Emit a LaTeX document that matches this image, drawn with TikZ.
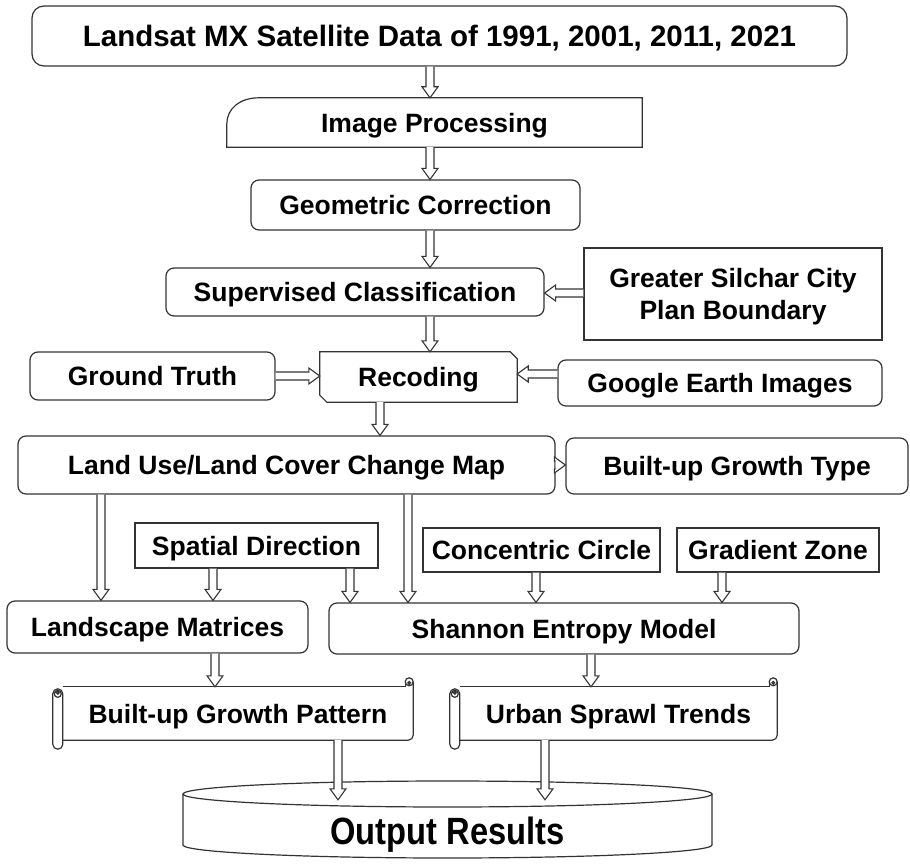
\documentclass[tikz,border=0pt]{standalone}
\usepackage{fontspec}
\setmainfont{Liberation Sans}
\usepackage{graphicx}
\usetikzlibrary{calc}
\newcommand\varr[3]{\draw[arrl] let \p1=(#1), \p2=(#2) in
  (#3pt-4pt,\y1) -- (#3pt-4pt,\y2+11pt) -- (#3pt-8pt,\y2+11pt) -- (#3pt,\y2) --
  (#3pt+8pt,\y2+11pt) -- (#3pt+4pt,\y2+11pt) -- (#3pt+4pt,\y1);}
\newcommand\rarr[3]{\draw[arrl] let \p1=(#1), \p2=(#2) in
  (\x1,-#3pt+4pt) -- (\x2-11pt,-#3pt+4pt) -- (\x2-11pt,-#3pt+8pt) -- (\x2,-#3pt) --
  (\x2-11pt,-#3pt-8pt) -- (\x2-11pt,-#3pt-4pt) -- (\x1,-#3pt-4pt);}
\newcommand\larr[3]{\draw[arrl] let \p1=(#1), \p2=(#2) in
  (\x1,-#3pt+4pt) -- (\x2+11pt,-#3pt+4pt) -- (\x2+11pt,-#3pt+8pt) -- (\x2,-#3pt) --
  (\x2+11pt,-#3pt-8pt) -- (\x2+11pt,-#3pt-4pt) -- (\x1,-#3pt-4pt);}
\newcommand\scrollshape[1]{%
  \draw[lw] let \p1=(#1.north west), \p2=(#1.south east) in
    (\x1,\y1) -- (\x2-8pt,\y1) -- (\x2-8pt,\y1+5pt);
  \draw[lw,rounded corners=5pt] let \p1=(#1.north west), \p2=(#1.south east) in
    (\x2,\y1+5pt) -- (\x2,\y2) -- (\x1,\y2);
  \draw[lw] let \p1=(#1.north west), \p2=(#1.south east) in
    (\x2-4pt,\y1+5pt) circle[radius=4pt] (\x2-4pt,\y1+4pt) circle[radius=1.3pt];
  \draw[lw,rounded corners=5pt] let \p1=(#1.north west), \p2=(#1.south east) in
    (\x1-10pt,\y1-2pt) rectangle (\x1,\y2-9pt);
  \draw[lw] let \p1=(#1.north west), \p2=(#1.south east) in
    (\x1-5pt,\y1-7pt) circle[radius=3.5pt] (\x1-5pt,\y1-6pt) circle[radius=1.3pt];}
\begin{document}
\begin{tikzpicture}[x=1pt,y=-1pt,
  lw/.style={draw=black!80,line width=1.2pt},
  txt/.style={inner sep=0pt,align=center,text depth=0pt,font=\fontsize{26.5}{32}\selectfont\bfseries},
  sbox/.style={txt,lw,fill=white},
  rbox/.style={sbox,rounded corners=8pt},
  arrl/.style={draw=black!80,line width=1.1pt,fill=white,line join=miter},
]
\useasboundingbox (0,0) rectangle (910,864);
\fill[white] (0,0) rectangle (910,864);

% nodes
\node[rbox,rounded corners=12pt,minimum width=815pt,minimum height=60pt,
      font=\fontsize{29.5}{34}\selectfont\bfseries] (top) at (439.5,36)
      {Landsat MX Satellite Data of 1991, 2001, 2011, 2021};
\node[txt,minimum width=415pt,minimum height=49pt] (imgp) at (434.5,122.5) {Image Processing};
\draw[lw] (imgp.south west) -- ($(imgp.north west)+(0,26)$)
   .. controls ($(imgp.north west)+(0,11)$) and ($(imgp.north west)+(13,0)$) .. ($(imgp.north west)+(32,0)$)
   -- (imgp.north east) -- (imgp.south east) -- cycle;
\node[rbox,minimum width=329pt,minimum height=50pt] (geo) at (415.5,205) {Geometric Correction};
\node[rbox,minimum width=378pt,minimum height=48pt] (sup) at (355,292) {Supervised Classification};
\node[sbox,minimum width=298pt,minimum height=92pt] (gsc) at (733,294) {Greater Silchar City\\Plan Boundary};
\node[txt,minimum width=197pt,minimum height=50pt] (rec) at (418.5,377) {Recoding};
\draw[lw] (rec.north west) -- ($(rec.north east)+(-7,0)$) -- ($(rec.north east)+(0,7)$)
   -- (rec.south east) -- ($(rec.south west)+(7,0)$) -- ($(rec.south west)+(0,-7)$) -- cycle;
\node[rbox,minimum width=245pt,minimum height=48pt] (gt) at (152.5,376) {Ground Truth};
\node[rbox,minimum width=324pt,minimum height=46pt] (gei) at (720,383) {Google Earth Images};
\node[rbox,minimum width=537pt,minimum height=58pt] (lulc) at (286.5,465) {Land Use/Land Cover Change Map};
\node[rbox,minimum width=342pt,minimum height=56pt] (bgt) at (737,466) {Built-up Growth Type};
\node[sbox,minimum width=243pt,minimum height=45pt] (spd) at (256.5,545.5) {Spatial Direction};
\node[sbox,minimum width=237pt,minimum height=44pt] (cc) at (541.5,550) {Concentric Circle};
\node[sbox,minimum width=202pt,minimum height=44pt] (gz) at (778,550) {Gradient Zone};
\node[rbox,minimum width=301pt,minimum height=52pt] (lm) at (157.5,627) {Landscape Matrices};
\node[rbox,minimum width=470pt,minimum height=51pt] (sem) at (564,628.5) {Shannon Entropy Model};
\node[txt,minimum width=350pt,minimum height=53pt] (bgp) at (238,713.5) {Built-up Growth Pattern};
\scrollshape{bgp}
\node[txt,minimum width=317pt,minimum height=53pt] (ust) at (618.5,713.5) {Urban Sprawl Trends};
\scrollshape{ust}

% cylinder
\draw[lw,fill=white] (183,794) -- (183,845)
   arc[start angle=180,end angle=0,x radius=264.5,y radius=13] -- (712,794);
\draw[lw,fill=white] (447.5,794) ellipse[x radius=264.5,y radius=13];
\node[txt,minimum width=529pt,minimum height=62pt] (out) at (447.5,831)
   {\scalebox{0.86}[1]{\fontsize{38}{44}\selectfont\bfseries Output Results}};

% arrows
\varr{top.south}{imgp.north}{430}
\varr{imgp.south}{geo.north}{430}
\varr{geo.south}{sup.north}{430}
\varr{sup.south}{rec.north}{430}
\larr{gsc.west}{sup.east}{293}
\rarr{gt.east}{rec.west}{376}
\larr{gei.west}{rec.east}{374}
\varr{rec.south}{lulc.north}{380}
\rarr{lulc.east}{bgt.west}{465}
\varr{lulc.south}{lm.north}{101}
\varr{lulc.south}{sem.north}{408}
\varr{spd.south}{lm.north}{213}
\varr{spd.south}{sem.north}{350}
\varr{cc.south}{sem.north}{536}
\varr{gz.south}{sem.north}{722}
\varr{lm.south}{bgp.north}{215}
\varr{sem.south}{ust.north}{591}
\varr{bgp.south}{out.north}{338}
\varr{ust.south}{out.north}{545}
\end{tikzpicture}
\end{document}
